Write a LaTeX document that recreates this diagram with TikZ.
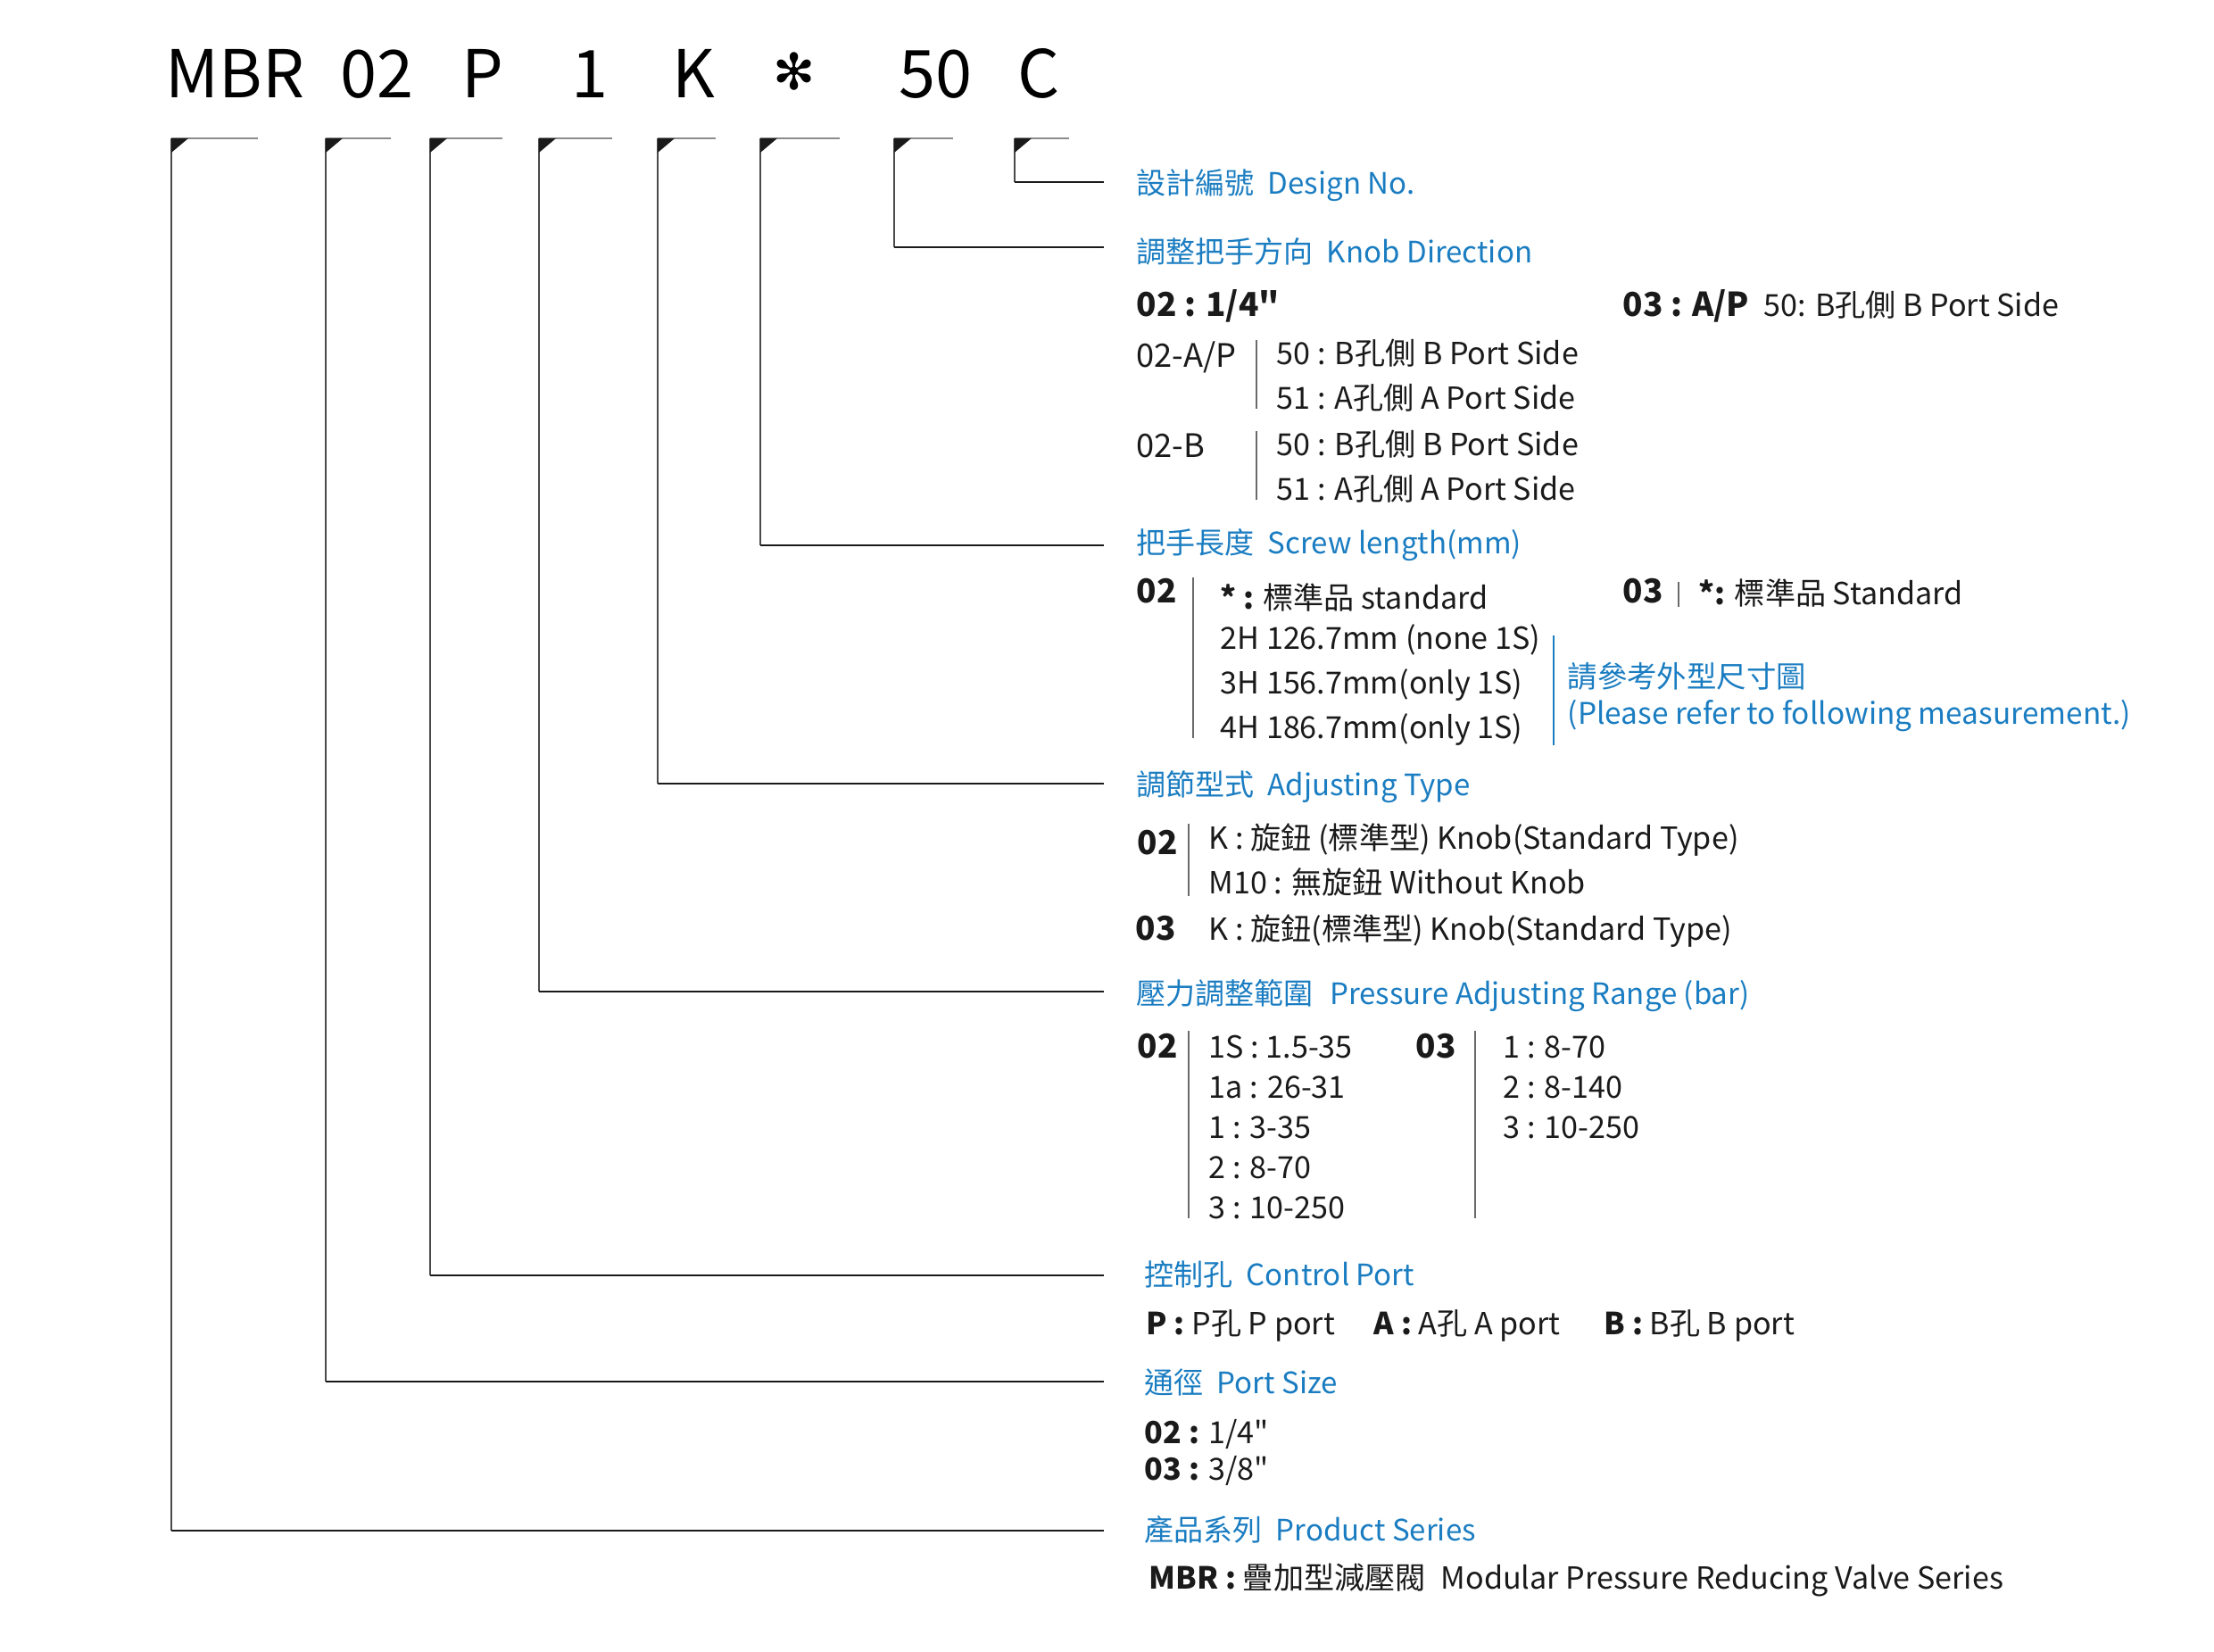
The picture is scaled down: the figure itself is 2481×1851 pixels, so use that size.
\documentclass[tikz,border=0pt]{standalone}
\usepackage{fontspec}
\setmainfont{Noto Sans CJK TC}
\newfontfamily\inchfont{Noto Sans CJK TC}
\newfontfamily\dingfont{DejaVu Sans}
\newcommand{\inch}{{\inchfont"}}
\usepackage{tikz}
\definecolor{CodeBlue}{HTML}{1B7DC1}
\definecolor{Ink}{HTML}{1A1A1A}
\definecolor{BarGray}{HTML}{8C8C8C}
\definecolor{LegGray}{HTML}{4A4A4A}
\definecolor{SepGray}{HTML}{6A6A6A}

\begin{document}
\begin{tikzpicture}[x=0.01cm,y=-0.01cm,
    code/.style={anchor=base west,inner sep=0pt,font=\fontsize{21}{24}\selectfont},
    head/.style={anchor=base west,inner sep=0pt,text=CodeBlue,font=\fontsize{9.4}{11}\selectfont},
    item/.style={anchor=base west,inner sep=0pt,text=Ink,font=\fontsize{9.7}{12}\selectfont},
    key/.style={anchor=base west,inner sep=0pt,text=Ink,font=\fontsize{10.5}{12}\selectfont\bfseries},
    grp/.style={anchor=base west,inner sep=0pt,text=Ink,font=\fontsize{10.3}{12}\selectfont},
    note/.style={anchor=base west,inner sep=0pt,text=CodeBlue,font=\fontsize{9.5}{12}\selectfont},
    topbar/.style={BarGray,line width=0.45pt},
    leg/.style={LegGray,line width=0.5pt},
    sep/.style={SepGray,line width=0.4pt}]
  \useasboundingbox (0,0) rectangle (2481,1851);

  % model code
  \node[code] (tMBR) at (185,109) {MBR};
  \node[code] (tSize) at (381,109) {02};
  \node[code] (tPort) at (517,109) {P};
  \node[code] (tRange) at (640,109) {1};
  \node[code] (tAdj) at (753,109) {K};
  \node[code,anchor=center] (tLen) at (890,80) {\dingfont\fontsize{16}{18}\selectfont ✻};
  \node[code] (tDir) at (1007,109) {50};
  \node[code] (tDes) at (1140,109) {C};

  % brackets
  \foreach \n/\x/\r/\y in {MBR/192/289/1715, Size/365/438/1548, Port/482/563/1429,
      Range/604/686/1111, Adj/737/802/878, Len/852/941/611, Dir/1002/1068/277, Des/1137/1198/204} {
    \coordinate (c\n) at (\x,155);
    \coordinate (e\n) at (1237,\y);
    \draw[topbar] (c\n) -- (\r,155);
    \draw[leg] (c\n) -- (\x,\y);
    \draw[Ink,line width=0.6pt] (\x,\y) -- (e\n);
    \fill[Ink] (c\n) -- ++(19,0) -- ++(-19,16) -- cycle;
  }

  % design no.
  \node[head] (hDes) at (1273,217) {設計編號\hspace{0.45em}Design No.};

  % knob direction
  \node[head] (hDir) at (1273,294) {調整把手方向\hspace{0.45em}Knob Direction};
  \node[key] (kDir02) at (1273,354) {02 : 1/4\inch};
  \node[key] (kDir03) at (1818,354) {03 : A/P};
  \node[item] (iDir03) at (1976,354) {50: B孔側 B Port Side};
  \node[grp] (gAP) at (1273,411) {02-A/P};
  \node[grp] (gB) at (1273,512) {02-B};
  \draw[sep] (1408,381) -- (1408,458);
  \draw[sep] (1408,483) -- (1408,560);
  \node[item] (iAP50) at (1430,408) {50 : B孔側 B Port Side};
  \node[item] (iAP51) at (1430,458) {51 : A孔側 A Port Side};
  \node[item] (iB50) at (1430,510) {50 : B孔側 B Port Side};
  \node[item] (iB51) at (1430,560) {51 : A孔側 A Port Side};

  % screw length
  \node[head] (hLen) at (1273,620) {把手長度\hspace{0.45em}Screw length(mm)};
  \node[key] (kLen02) at (1273,675) {02};
  \draw[sep] (1337,647) -- (1337,827);
  \node[item] (iStd) at (1367,682) {\textbf{* :} 標準品 standard};
  \node[item] (i2H) at (1367,727) {2H 126.7mm (none 1S)};
  \node[item] (i3H) at (1367,777) {3H 156.7mm(only 1S)};
  \node[item] (i4H) at (1367,827) {4H 186.7mm(only 1S)};
  \draw[CodeBlue,line width=0.4pt] (1741,712) -- (1741,835);
  \node[note] (nRef) at (1756,770) {請參考外型尺寸圖};
  \node[note] (nRefEn) at (1756,811) {(Please refer to following measurement.)};
  \node[key] (kLen03) at (1818,675) {03};
  \draw[sep] (1881,652) -- (1881,680);
  \node[item] (iStd03) at (1903,677) {\textbf{*:} 標準品 Standard};

  % adjusting type
  \node[head] (hAdj) at (1273,891) {調節型式\hspace{0.45em}Adjusting Type};
  \node[key] (kAdj02) at (1274,957) {02};
  \draw[sep] (1332,923) -- (1332,1004);
  \node[item] (iKnob) at (1354,951) {K : 旋鈕 (標準型) Knob(Standard Type)};
  \node[item] (iM10) at (1354,1001) {M10 : 無旋鈕 Without Knob};
  \node[key] (kAdj03) at (1272,1053) {03};
  \node[item] (iKnob03) at (1354,1053) {K : 旋鈕(標準型) Knob(Standard Type)};

  % pressure range
  \node[head] (hRange) at (1273,1125) {壓力調整範圍\hspace{0.55em}Pressure Adjusting Range (bar)};
  \node[key] (kRange02) at (1274,1185) {02};
  \draw[sep] (1332,1155) -- (1332,1365);
  \node[item] (r1S) at (1354,1185) {1S : 1.5-35};
  \node[item] (r1a) at (1354,1230) {1a : 26-31};
  \node[item] (r1) at (1354,1275) {1 : 3-35};
  \node[item] (r2) at (1354,1320) {2 : 8-70};
  \node[item] (r3) at (1354,1365) {3 : 10-250};
  \node[key] (kRange03) at (1586,1185) {03};
  \draw[sep] (1653,1155) -- (1653,1365);
  \node[item] (s1) at (1684,1185) {1 : 8-70};
  \node[item] (s2) at (1684,1230) {2 : 8-140};
  \node[item] (s3) at (1684,1275) {3 : 10-250};

  % control port
  \node[head] (hPort) at (1282,1440) {控制孔\hspace{0.45em}Control Port};
  \node[item] (pP) at (1284,1495) {\textbf{P :} P孔 P port};
  \node[item] (pA) at (1539,1495) {\textbf{A :} A孔 A port};
  \node[item] (pB) at (1797,1495) {\textbf{B :} B孔 B port};

  % port size
  \node[head] (hSize) at (1282,1561) {通徑\hspace{0.45em}Port Size};
  \node[item] (z02) at (1282,1617) {\textbf{02 :} 1/4\inch};
  \node[item] (z03) at (1282,1658) {\textbf{03 :} 3/8\inch};

  % product series
  \node[head] (hMBR) at (1282,1726) {產品系列\hspace{0.45em}Product Series};
  \node[item] (mMBR) at (1287,1780) {\textbf{MBR :} 疊加型減壓閥\hspace{0.5em}Modular Pressure Reducing Valve Series};
\end{tikzpicture}
\end{document}
